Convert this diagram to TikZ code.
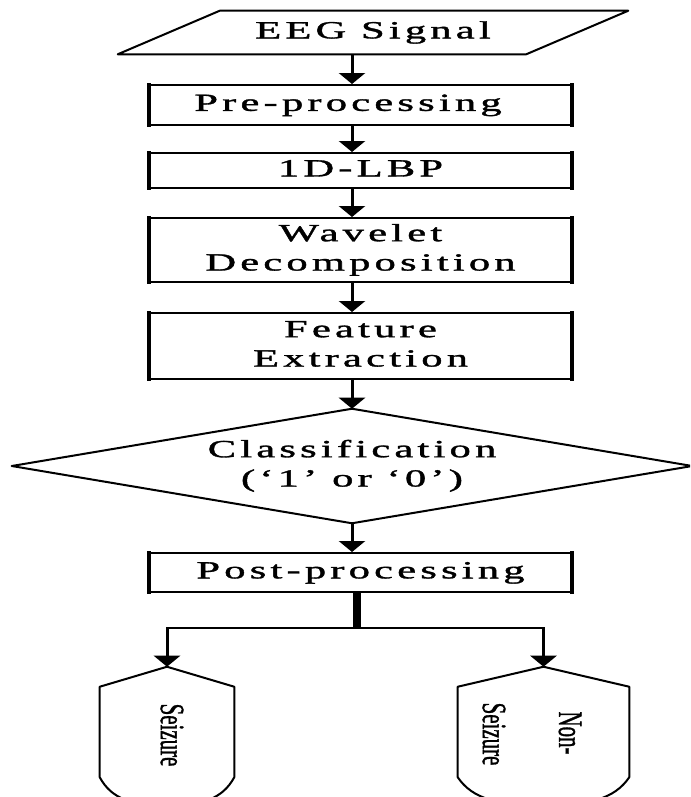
\documentclass[tikz,border=0pt]{standalone}
\usepackage{fontspec}
\usepackage{graphicx}
\usetikzlibrary{arrows.meta,calc}
\setmainfont{Liberation Serif}
\newfontfamily\boxfont[LetterSpace=10,FakeBold=1.2]{Liberation Serif}
\newfontfamily\sidefont[FakeBold=1.3]{Liberation Serif}

% widened, letter-spaced label used inside the flow boxes
\newcommand\boxlabel[1]{\scalebox{1.72}[1]{\begin{tabular}{@{}c@{}}#1\end{tabular}}}
% upright text turned to read top-to-bottom
\newcommand\sidelabel[1]{\rotatebox{-90}{\scalebox{0.95}[1.55]{#1}}}

\begin{document}
\begin{tikzpicture}[x=0.75pt, y=-0.75pt,
  edge/.style={line width=1.5pt, line join=round},
  boxtext/.style={font=\boxfont\fontsize{18.5pt}{22pt}\selectfont, inner sep=0pt},
  box/.style={boxtext, draw, line width=1.5pt, minimum width=315.75pt},
  side/.style={line width=3pt, shorten <=-0.75pt, shorten >=-0.75pt},
  arr/.style={line width=2.25pt, -{Triangle[width=19.5pt,length=8.25pt]}},
  hline/.style={line width=1.7pt, line cap=rect},
  trunk/.style={line width=6.5pt},
  drum/.style={inner sep=0pt, minimum height=103.5pt},
  sidetext/.style={font=\sidefont\fontsize{16.5pt}{20pt}\selectfont, inner sep=0pt}
]
\path[use as bounding box, fill=white] (0,0) rectangle (690,797);
\clip (0,0) rectangle (690,797);

% input parallelogram
\node[boxtext, minimum width=382.5pt, minimum height=32.25pt] (eeg) at (373,32.5) {\boxlabel{EEG Signal}};
\draw[edge] (eeg.south west) -- ($(eeg.north west)+(102,0)$) -- (eeg.north east)
  -- ($(eeg.south east)-(102,0)$) -- cycle;

% processing boxes
\node[box, minimum height=30pt]    (pre)  at (360.5,105)   {};
\node[boxtext] (pretxt) at (348,105) {\boxlabel{Pre-processing}};
\node[box, minimum height=26.25pt] (lbp)  at (360.5,170.5) {\boxlabel{1D-LBP}};
\node[box, minimum height=48pt]    (wav)  at (360.5,250)   {\boxlabel{Wavelet\\Decomposition}};
\node[box, minimum height=49.5pt]  (feat) at (360.5,346)   {\boxlabel{Feature\\Extraction}};
\node[box, minimum height=29.25pt] (post) at (360.5,572.5) {\boxlabel{Post-processing}};
\foreach \n in {pre,lbp,wav,feat,post}{
  \draw[side] (\n.north west) -- (\n.south west);
  \draw[side] (\n.north east) -- (\n.south east);
}

% decision diamond
\node[boxtext, minimum width=510pt, minimum height=85.5pt] (cls) at (352,466)
  {\boxlabel{Classification\\(‘1’ or ‘0’)}};
\draw[edge] (cls.north) -- (cls.east) -- (cls.south) -- (cls.west) -- cycle;

% main flow
\coordinate (axis) at (352,0);
\draw[arr] (eeg.south -| axis) -- (pre.north -| axis);
\draw[arr] (pre.south -| axis) -- (lbp.north -| axis);
\draw[arr] (lbp.south -| axis) -- (wav.north -| axis);
\draw[arr] (wav.south -| axis) -- (feat.north -| axis);
\draw[arr] (feat.south -| axis) -- (cls.north);
\draw[arr] (cls.south) -- (post.north -| cls.south);

% output terminals
\node[drum, minimum width=100.5pt]  (seiz)    at (167,736)   {};
\node[drum, minimum width=128.25pt] (nonseiz) at (543.5,736) {};
\foreach \n/\c/\k in {seiz/35/12, nonseiz/45/15}{
  \draw[edge] (\n.north) -- ($(\n.north east)+(0,20)$) -- ($(\n.south east)+(0,-28)$)
    .. controls ($(\n.south east)+(-\k,-6)$) and ($(\n.south)+(\c,0)$) .. (\n.south)
    .. controls ($(\n.south)+(-\c,0)$) and ($(\n.south west)+(\k,-6)$) .. ($(\n.south west)+(0,-28)$)
    -- ($(\n.north west)+(0,20)$) -- cycle;
}
\node[sidetext] (seiztxt) at (172,735) {\sidelabel{Seizure}};
\node[sidetext] (nontxtA) at (570,733) {\sidelabel{Non-}};
\node[sidetext] (nontxtB) at (494,734) {\sidelabel{Seizure}};

% split after post-processing
\coordinate (fork) at (357,628);
\coordinate (forkL) at (seiz.north |- fork);
\coordinate (forkR) at (nonseiz.north |- fork);
\draw[trunk] (post.south -| fork) -- (fork);
\draw[hline] (forkL) -- (forkR);
\draw[arr] (forkL) -- (seiz.north);
\draw[arr] (forkR) -- (nonseiz.north);
\end{tikzpicture}
\end{document}
